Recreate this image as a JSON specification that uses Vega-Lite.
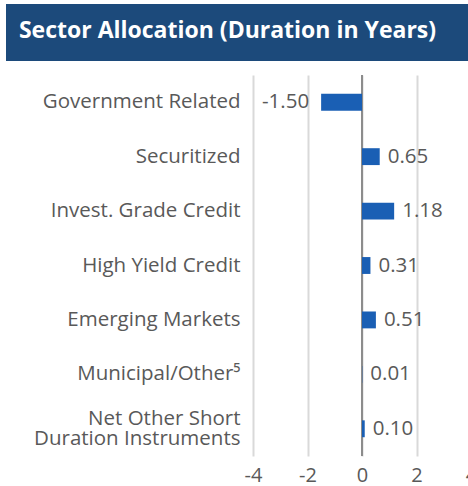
{
  "$schema": "https://vega.github.io/schema/vega-lite/v6.json",
  "padding": {"left": 6, "top": 4, "right": 0, "bottom": 0},
  "spacing": 13,
  "config": {
    "view": {"stroke": null},
    "font": "Open Sans",
    "locale": {"number": {"decimal": ".", "thousands": ",", "grouping": [3], "currency": ["$", ""], "minus": "-"}}
  },
  "vconcat": [
    {
      "width": 218,
      "height": 57,
      "data": {"values": [{"title": "Sector Allocation (Duration in Years)"}]},
      "layer": [
        {
          "mark": {"type": "rect", "color": "#1c4a7b", "clip": false},
          "encoding": {
            "x": {"datum": -13.064, "type": "quantitative", "scale": {"domain": [-4, 4], "nice": false}, "axis": null},
            "x2": {"datum": 4.3}
          }
        },
        {
          "mark": {"type": "text", "color": "#ffffff", "font": "Open Sans", "fontSize": 23, "fontWeight": "bold", "dy": -2, "baseline": "middle", "align": "left"},
          "encoding": {
            "x": {"datum": -12.59, "type": "quantitative"},
            "text": {"field": "title", "type": "nominal"}
          }
        }
      ]
    },
    {
      "width": 218,
      "height": 381,
      "data": {
        "values": [
          {"sector": "Government Related", "duration": -1.5},
          {"sector": "Securitized", "duration": 0.65},
          {"sector": "Invest. Grade Credit", "duration": 1.18},
          {"sector": "High Yield Credit", "duration": 0.31},
          {"sector": "Emerging Markets", "duration": 0.51},
          {"sector": "Municipal/Other⁵", "duration": 0.01},
          {"sector": "Net Other Short Duration Instruments", "duration": 0.1}
        ]
      },
      "layer": [
        {
          "mark": {"type": "rule", "color": "#8c8c8c", "strokeWidth": 2},
          "encoding": {"x": {"datum": 0, "type": "quantitative"}}
        },
        {
          "mark": {"type": "bar", "color": "#1a5fb4"},
          "encoding": {
            "y": {
              "field": "sector", "type": "nominal", "sort": null,
              "scale": {"paddingInner": 0.69, "paddingOuter": 0.345},
              "axis": {
                "title": null,
                "domain": false, "ticks": false, "labelPadding": 13,
                "labelFontSize": 20.5, "labelColor": "#595959", "labelFont": "Open Sans",
                "labelLimit": 400, "labelLineHeight": 20,
                "labelOffset": {"condition": {"test": "datum.value == 'Net Other Short Duration Instruments'", "value": -10}, "value": 0},
                "labelExpr": "datum.label == 'Net Other Short Duration Instruments' ? ['Net Other Short', 'Duration Instruments'] : datum.label"
              }
            },
            "x": {
              "field": "duration", "type": "quantitative",
              "scale": {"domain": [-4, 4], "nice": false},
              "axis": {
                "title": null, "values": [-4, -2, 0, 2, 4], "grid": true, "gridColor": "#d9d9d9", "gridWidth": 2,
                "domain": false, "ticks": false, "labelFlush": false, "labelFontSize": 20,
                "labelColor": "#595959", "labelFont": "Open Sans", "labelPadding": 9
              }
            }
          }
        },
        {
          "transform": [{"filter": "datum.duration >= 0"}],
          "mark": {"type": "text", "align": "left", "baseline": "middle", "dx": 8, "fontSize": 20.5, "color": "#595959", "font": "Open Sans"},
          "encoding": {
            "y": {"field": "sector", "type": "nominal", "sort": null},
            "x": {"field": "duration", "type": "quantitative"},
            "text": {"field": "duration", "type": "quantitative", "format": ".2f"}
          }
        },
        {
          "transform": [{"filter": "datum.duration < 0"}],
          "mark": {"type": "text", "align": "right", "baseline": "middle", "dx": -12, "fontSize": 20.5, "color": "#595959", "font": "Open Sans"},
          "encoding": {
            "y": {"field": "sector", "type": "nominal", "sort": null},
            "x": {"field": "duration", "type": "quantitative"},
            "text": {"field": "duration", "type": "quantitative", "format": ".2f"}
          }
        }
      ]
    }
  ]
}
